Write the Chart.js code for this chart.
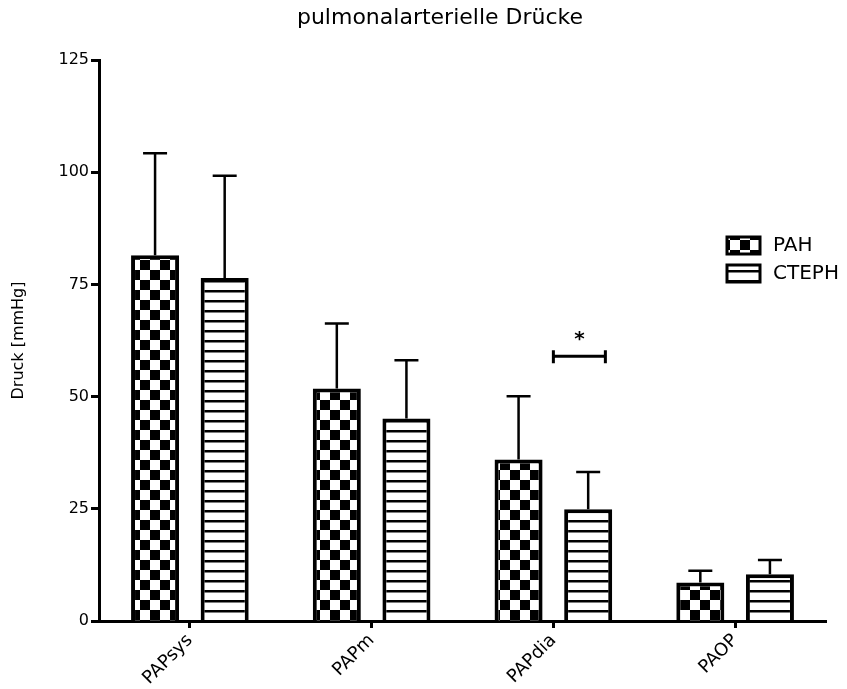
<!DOCTYPE html>
<html>
<head>
<meta charset="utf-8">
<script src="https://cdn.jsdelivr.net/npm/chart.js@4"></script>
<style>
  html, body { margin: 0; padding: 0; background: #fff; }
</style>
</head>
<body>
<canvas id="grafico" width="847" height="689"></canvas>
<script>
const categorias = ['PAPsys', 'PAPm', 'PAPdia', 'PAOP'];
const mediaPAH = [81.5, 51.8, 36.0, 8.6];
const dpPAH = [22.7, 14.5, 14.1, 2.6];
const mediaCTEPH = [76.4, 45.1, 24.9, 10.4];
const dpCTEPH = [22.8, 13.0, 8.3, 3.2];
const yTicks = [0, 25, 50, 75, 100, 125];
const signifNivel = 59;
const titulo = 'pulmonalarterielle Drücke';

const FONTE = '"DejaVu Sans", "Liberation Sans", Arial, sans-serif';
Chart.defaults.font.family = FONTE;
Chart.defaults.color = '#000';

function padraoXadrez() {
  const c = document.createElement('canvas');
  c.width = 20; c.height = 20;
  const g = c.getContext('2d');
  g.fillStyle = '#fff'; g.fillRect(0, 0, 20, 20);
  g.fillStyle = '#000';
  g.fillRect(0, 0, 10, 10);
  g.fillRect(10, 10, 10, 10);
  return g.createPattern(c, 'repeat');
}

function padraoListras() {
  const c = document.createElement('canvas');
  c.width = 10; c.height = 10;
  const g = c.getContext('2d');
  g.fillStyle = '#fff'; g.fillRect(0, 0, 10, 10);
  g.fillStyle = '#000';
  g.fillRect(0, 0, 10, 2.5);
  return g.createPattern(c, 'repeat');
}

const ctx = document.getElementById('grafico').getContext('2d');
const pXadrez = padraoXadrez();
const pListras = padraoListras();
const erros = [dpPAH, dpCTEPH];

// titulo, barras de erro (só para cima), colchete de significância, legenda
const extras = {
  id: 'extras',
  afterDatasetsDraw(chart) {
    const c = chart.ctx, y = chart.scales.y, x = chart.scales.x;
    c.save();
    c.fillStyle = '#000';
    c.font = '22px ' + FONTE;
    c.textAlign = 'center';
    c.textBaseline = 'middle';
    c.fillText(titulo, 440, 18);

    c.strokeStyle = '#000';
    c.lineWidth = 2.5;
    chart.data.datasets.forEach((ds, i) => {
      chart.getDatasetMeta(i).data.forEach((bar, j) => {
        const topo = y.getPixelForValue(ds.data[j] + erros[i][j]);
        c.beginPath();
        c.moveTo(bar.x, bar.y);
        c.lineTo(bar.x, topo);
        c.moveTo(bar.x - 12, topo);
        c.lineTo(bar.x + 12, topo);
        c.stroke();
      });
    });

    // colchete PAPdia
    const cx = x.getPixelForValue(2);
    const yb = y.getPixelForValue(signifNivel);
    c.lineWidth = 3;
    c.beginPath();
    c.moveTo(cx, yb); c.lineTo(cx + 52, yb);
    c.moveTo(cx, yb - 6); c.lineTo(cx, yb + 7);
    c.moveTo(cx + 52, yb - 6); c.lineTo(cx + 52, yb + 7);
    c.stroke();
    c.font = 'bold 20px ' + FONTE;
    c.fillText('*', cx + 26, yb - 16);

    // legenda
    c.font = '20px ' + FONTE;
    c.textAlign = 'left';
    chart.data.datasets.forEach((ds, i) => {
      const ly = 237 + i * 28;
      c.fillStyle = ds.backgroundColor;
      c.fillRect(727, ly, 33, 17);
      c.lineWidth = 3;
      c.strokeRect(727, ly, 33, 17);
      c.fillStyle = '#000';
      c.fillText(ds.label, 773, ly + 9);
    });
    c.restore();
  }
};

new Chart(ctx, {
  type: 'bar',
  data: {
    labels: categorias,
    datasets: [
      { label: 'PAH', data: mediaPAH, backgroundColor: pXadrez, borderColor: '#000', borderWidth: 4 },
      { label: 'CTEPH', data: mediaCTEPH, backgroundColor: pListras, borderColor: '#000', borderWidth: 4 }
    ]
  },
  options: {
    responsive: false,
    animation: false,
    events: [],
    categoryPercentage: 0.766,
    barPercentage: 0.69,
    layout: { padding: { left: 0, right: 21, top: 60, bottom: 0 } },
    plugins: {
      legend: { display: false },
      tooltip: { enabled: false },
      title: { display: false }
    },
    scales: {
      x: {
        offset: true,
        border: { display: true, color: '#000', width: 3 },
        grid: { offset: false, drawOnChartArea: false, drawTicks: true, tickLength: 7, tickWidth: 3, color: '#000' },
        ticks: { minRotation: 45, maxRotation: 45, font: { size: 18 }, padding: 2, color: '#000' },
        afterFit(s) { s.height = 68; }
      },
      y: {
        min: 0,
        max: 125,
        afterBuildTicks(s) { s.ticks = yTicks.map(v => ({ value: v })); },
        border: { display: true, color: '#000', width: 3 },
        grid: { drawOnChartArea: false, drawTicks: true, tickLength: 8, tickWidth: 3, color: '#000' },
        ticks: { font: { size: 16 }, padding: 2, color: '#000' },
        title: {
          display: true,
          text: 'Druck [mmHg]',
          font: { size: 16 },
          color: '#000',
          padding: { top: 9, bottom: 0 }
        },
        afterFit(s) { s.width = 99; }
      }
    }
  },
  plugins: [extras]
});
</script>
</body>
</html>
